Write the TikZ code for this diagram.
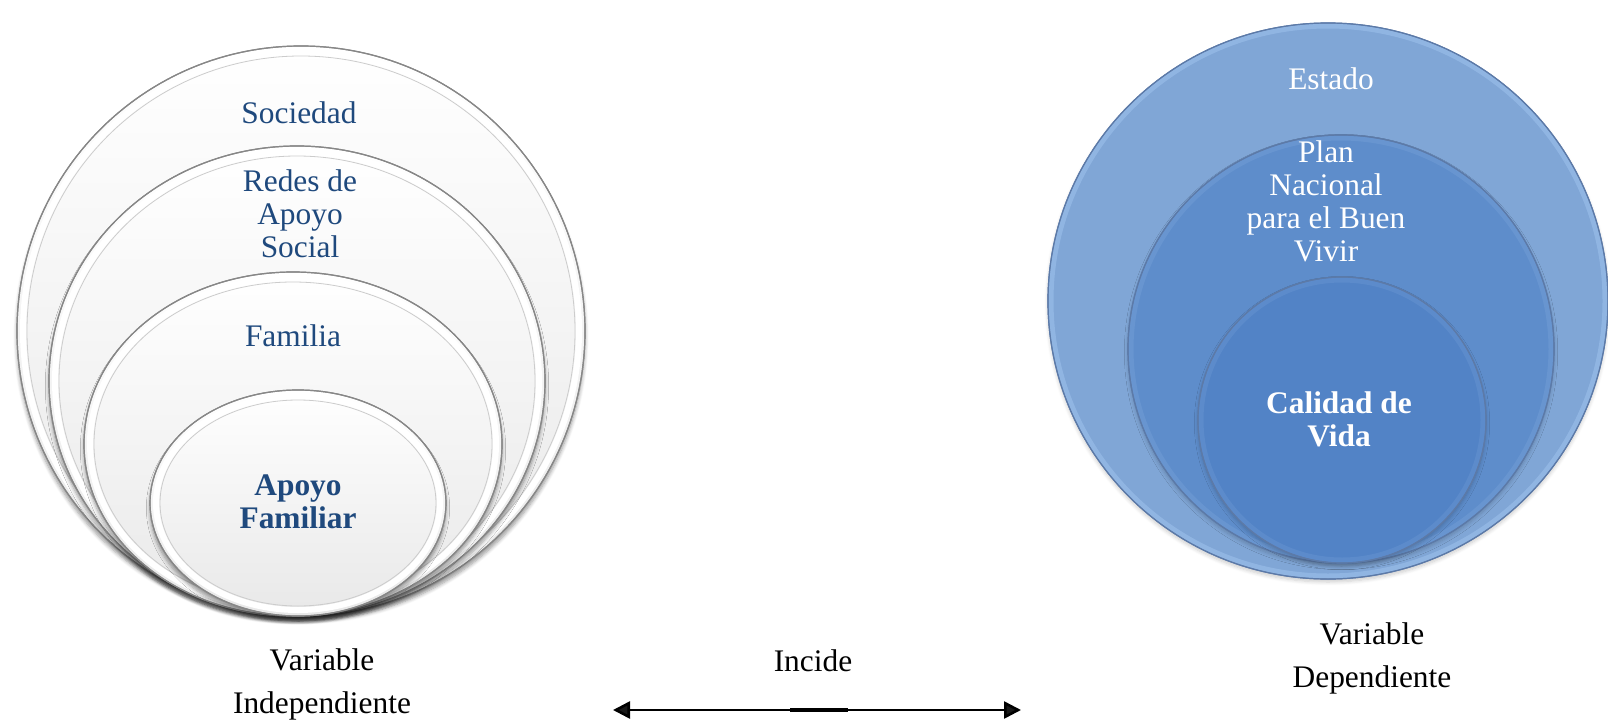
\documentclass[tikz,border=0pt]{standalone}
\usepackage{fontspec}
\setmainfont{Liberation Serif}
\usetikzlibrary{shadows.blur, arrows.meta}
\definecolor{txtblue}{RGB}{31,73,125}
\definecolor{rimgray}{RGB}{135,135,135}
\definecolor{estadoblue}{RGB}{128,166,214}
\definecolor{planblue}{RGB}{94,141,203}
\definecolor{calblue}{RGB}{82,131,198}
\definecolor{blueline}{RGB}{92,122,168}
\definecolor{bluerim}{RGB}{165,200,242}
\tikzset{
  lbl/.style={font=\fontsize{15.7}{16.5}\selectfont, align=center, inner sep=0pt},
  lefttxt/.style={lbl, text=txtblue},
  righttxt/.style={lbl, text=white},
  captxt/.style={font=\fontsize{15.7}{21.5}\selectfont, align=center, inner sep=0pt, text=black},
  whitedisc/.style={top color=white, bottom color=black!9, draw=rimgray, line width=0.6pt,
    blur shadow={shadow xshift=0pt, shadow yshift=-2.5pt, shadow blur steps=6, shadow opacity=40}},
  bluedisc/.style={draw=blueline, line width=0.6pt,
    blur shadow={shadow xshift=0pt, shadow yshift=-1.5pt, shadow blur steps=6, shadow opacity=20}},
  band/.style={white, line width=3pt},
  bandline/.style={black!20, line width=0.4pt},
  tipa/.tip={Triangle[length=8.5pt,width=8.5pt]}
}
\newcommand\whitering[4]{%
  \path[whitedisc] (#1,#2) ellipse [x radius=#3, y radius=#4];
  \draw[band] (#1,#2) ellipse [x radius=#3-6, y radius=#4-6];
  \draw[bandline] (#1,#2) ellipse [x radius=#3-10, y radius=#4-10];
  \draw[rimgray, line width=0.6pt] (#1,#2) ellipse [x radius=#3, y radius=#4];
}
\newcommand\bluering[6]{%
  \path[bluedisc, fill=#5] (#1,#2) ellipse [x radius=#3, y radius=#4];
  \draw[bluerim, line width=2.5pt, opacity=#6] (#1,#2) ellipse [x radius=#3-3, y radius=#4-3];
  \draw[blueline, line width=0.6pt] (#1,#2) ellipse [x radius=#3, y radius=#4];
}
\begin{document}
\begin{tikzpicture}[x=0.5pt,y=-0.5pt]
\useasboundingbox (0,0) rectangle (1608,723);
% left stacked circles
\whitering{301}{331}{284}{285}
\whitering{297}{381}{248}{235}
\whitering{293}{444}{209}{172}
\whitering{298}{503}{148}{113}
% right stacked circles
\bluering{1328}{301}{280}{278}{estadoblue}{0.45}
\bluering{1341}{349}{213}{214}{planblue}{0.15}
\bluering{1342}{420}{144}{143}{calblue}{0.12}
% labels
\node[lefttxt] (soc) at (299,113) {Sociedad};
\node[lefttxt] (redes) at (300,214) {Redes de\\Apoyo\\Social};
\node[lefttxt] (fam) at (293,336) {Familia};
\node[lefttxt, font=\fontsize{15.7}{16.5}\selectfont\bfseries] (apoyo) at (298,502) {Apoyo\\Familiar};
\node[righttxt] (estado) at (1331,79) {Estado};
\node[righttxt] (plan) at (1326,201) {Plan\\Nacional\\para el Buen\\Vivir};
\node[righttxt, font=\fontsize{15.7}{16.5}\selectfont\bfseries] (cal) at (1339,419) {Calidad de\\Vida};
\node[captxt] (vind) at (322,684) {Variable\\Independiente};
\node[captxt] (incide) at (813,661) {Incide};
\node[captxt] (vdep) at (1372,658) {Variable\\Dependiente};
% arrow
\coordinate (arrL) at (613,710);
\coordinate (arrR) at (1021,710);
\draw[{tipa}-{tipa}, line width=1.3pt] (arrL) -- (arrR);
\path (arrL) -- (arrR) coordinate[pos=0.435] (m1) coordinate[pos=0.575] (m2);
\draw[line width=1.7pt] (m1) -- (m2);
\end{tikzpicture}
\end{document}
